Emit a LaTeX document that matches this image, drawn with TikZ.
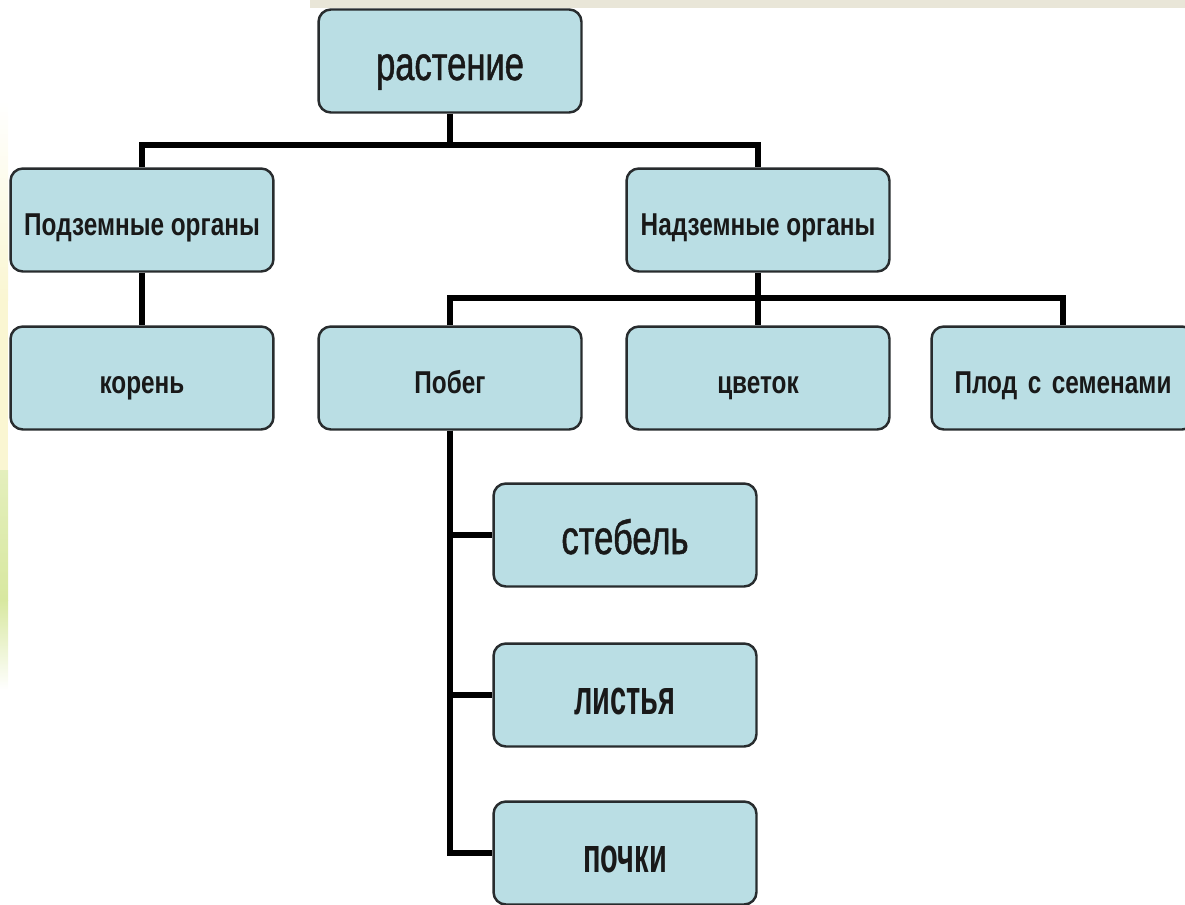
\documentclass[tikz,border=0pt]{standalone}
\usepackage{fontspec}
\setmainfont[FakeStretch=0.77]{Liberation Sans}
\newfontfamily\condsans[FakeStretch=0.72,FakeBold=1]{Liberation Sans}
\newfontfamily\narrowsans[FakeStretch=0.59]{Liberation Sans}
\usepackage{tikz}
\usetikzlibrary{positioning}

\definecolor{boxfill}{RGB}{186,222,228}
\definecolor{boxline}{RGB}{40,44,46}
\definecolor{topbar}{RGB}{233,230,216}
\definecolor{paleyellow}{RGB}{250,246,210}
\definecolor{palegreen}{RGB}{216,232,160}

\begin{document}
\begin{tikzpicture}[x=0.02cm,y=-0.02cm,
  box/.style={draw=boxline, fill=boxfill, line width=1.4pt, rounded corners=7pt,
    minimum width=5.26cm, minimum height=2.06cm, inner sep=0pt, text=black!90},
  bigtxt/.style={font=\condsans\fontsize{27.3}{31}\selectfont, text height=0.76cm, text depth=0cm},
  heavytxt/.style={font=\narrowsans\fontsize{28}{32}\selectfont\bfseries, text height=0.76cm, text depth=0cm},
  midtxt/.style={font=\fontsize{18}{21}\selectfont\bfseries, text height=0.6cm, text depth=0cm},
  conn/.style={line width=3.3pt, black, line join=miter}]

\useasboundingbox (0,0) rectangle (1185,904);
\clip (0,0) rectangle (1185,904);

\fill[topbar] (310,0) rectangle (1185,8);
\fill[top color=white, bottom color=paleyellow] (0,100) rectangle (8,300);
\fill[paleyellow] (0,300) rectangle (8,470);
\fill[top color=palegreen!70, bottom color=palegreen] (0,470) rectangle (8,600);
\fill[top color=palegreen, bottom color=white] (0,600) rectangle (8,690);

\node[box, bigtxt] (root) at (450,61) {растение};

\node[box, midtxt] (podz) at (142,220) {Подземные органы};
\node[box, midtxt] (nadz) at (758,220) {Надземные органы};

\node[box, midtxt] (koren)  at (142,378) {корень};
\node[box, midtxt] (pobeg)  at (450,378) {Побег};
\node[box, midtxt] (cvetok) at (758,378) {цветок};
\node[box, midtxt] (plod)   at (1063,378) {Плод\hspace{0.12em} с\hspace{0.12em} семенами};

\node[box, bigtxt] (stebel) at (625,535) {стебель};
\node[box, heavytxt] (listya) at (625,695) {листья};
\node[box, heavytxt] (pochki) at (625,853) {почки};

\coordinate (bus1) at (450,145);
\coordinate (bus2) at (758,298);

\draw[conn] (root.south) -- (bus1);
\draw[conn] (podz.north) |- (bus1) -| (nadz.north);
\draw[conn] (podz.south) -- (koren.north);
\draw[conn] (nadz.south) -- (cvetok.north);
\draw[conn] (pobeg.north) |- (bus2) -| (plod.north);
\draw[conn] (pobeg.south) |- (stebel.west);
\draw[conn] (pobeg.south) |- (listya.west);
\draw[conn] (pobeg.south) |- (pochki.west);
\end{tikzpicture}
\end{document}
